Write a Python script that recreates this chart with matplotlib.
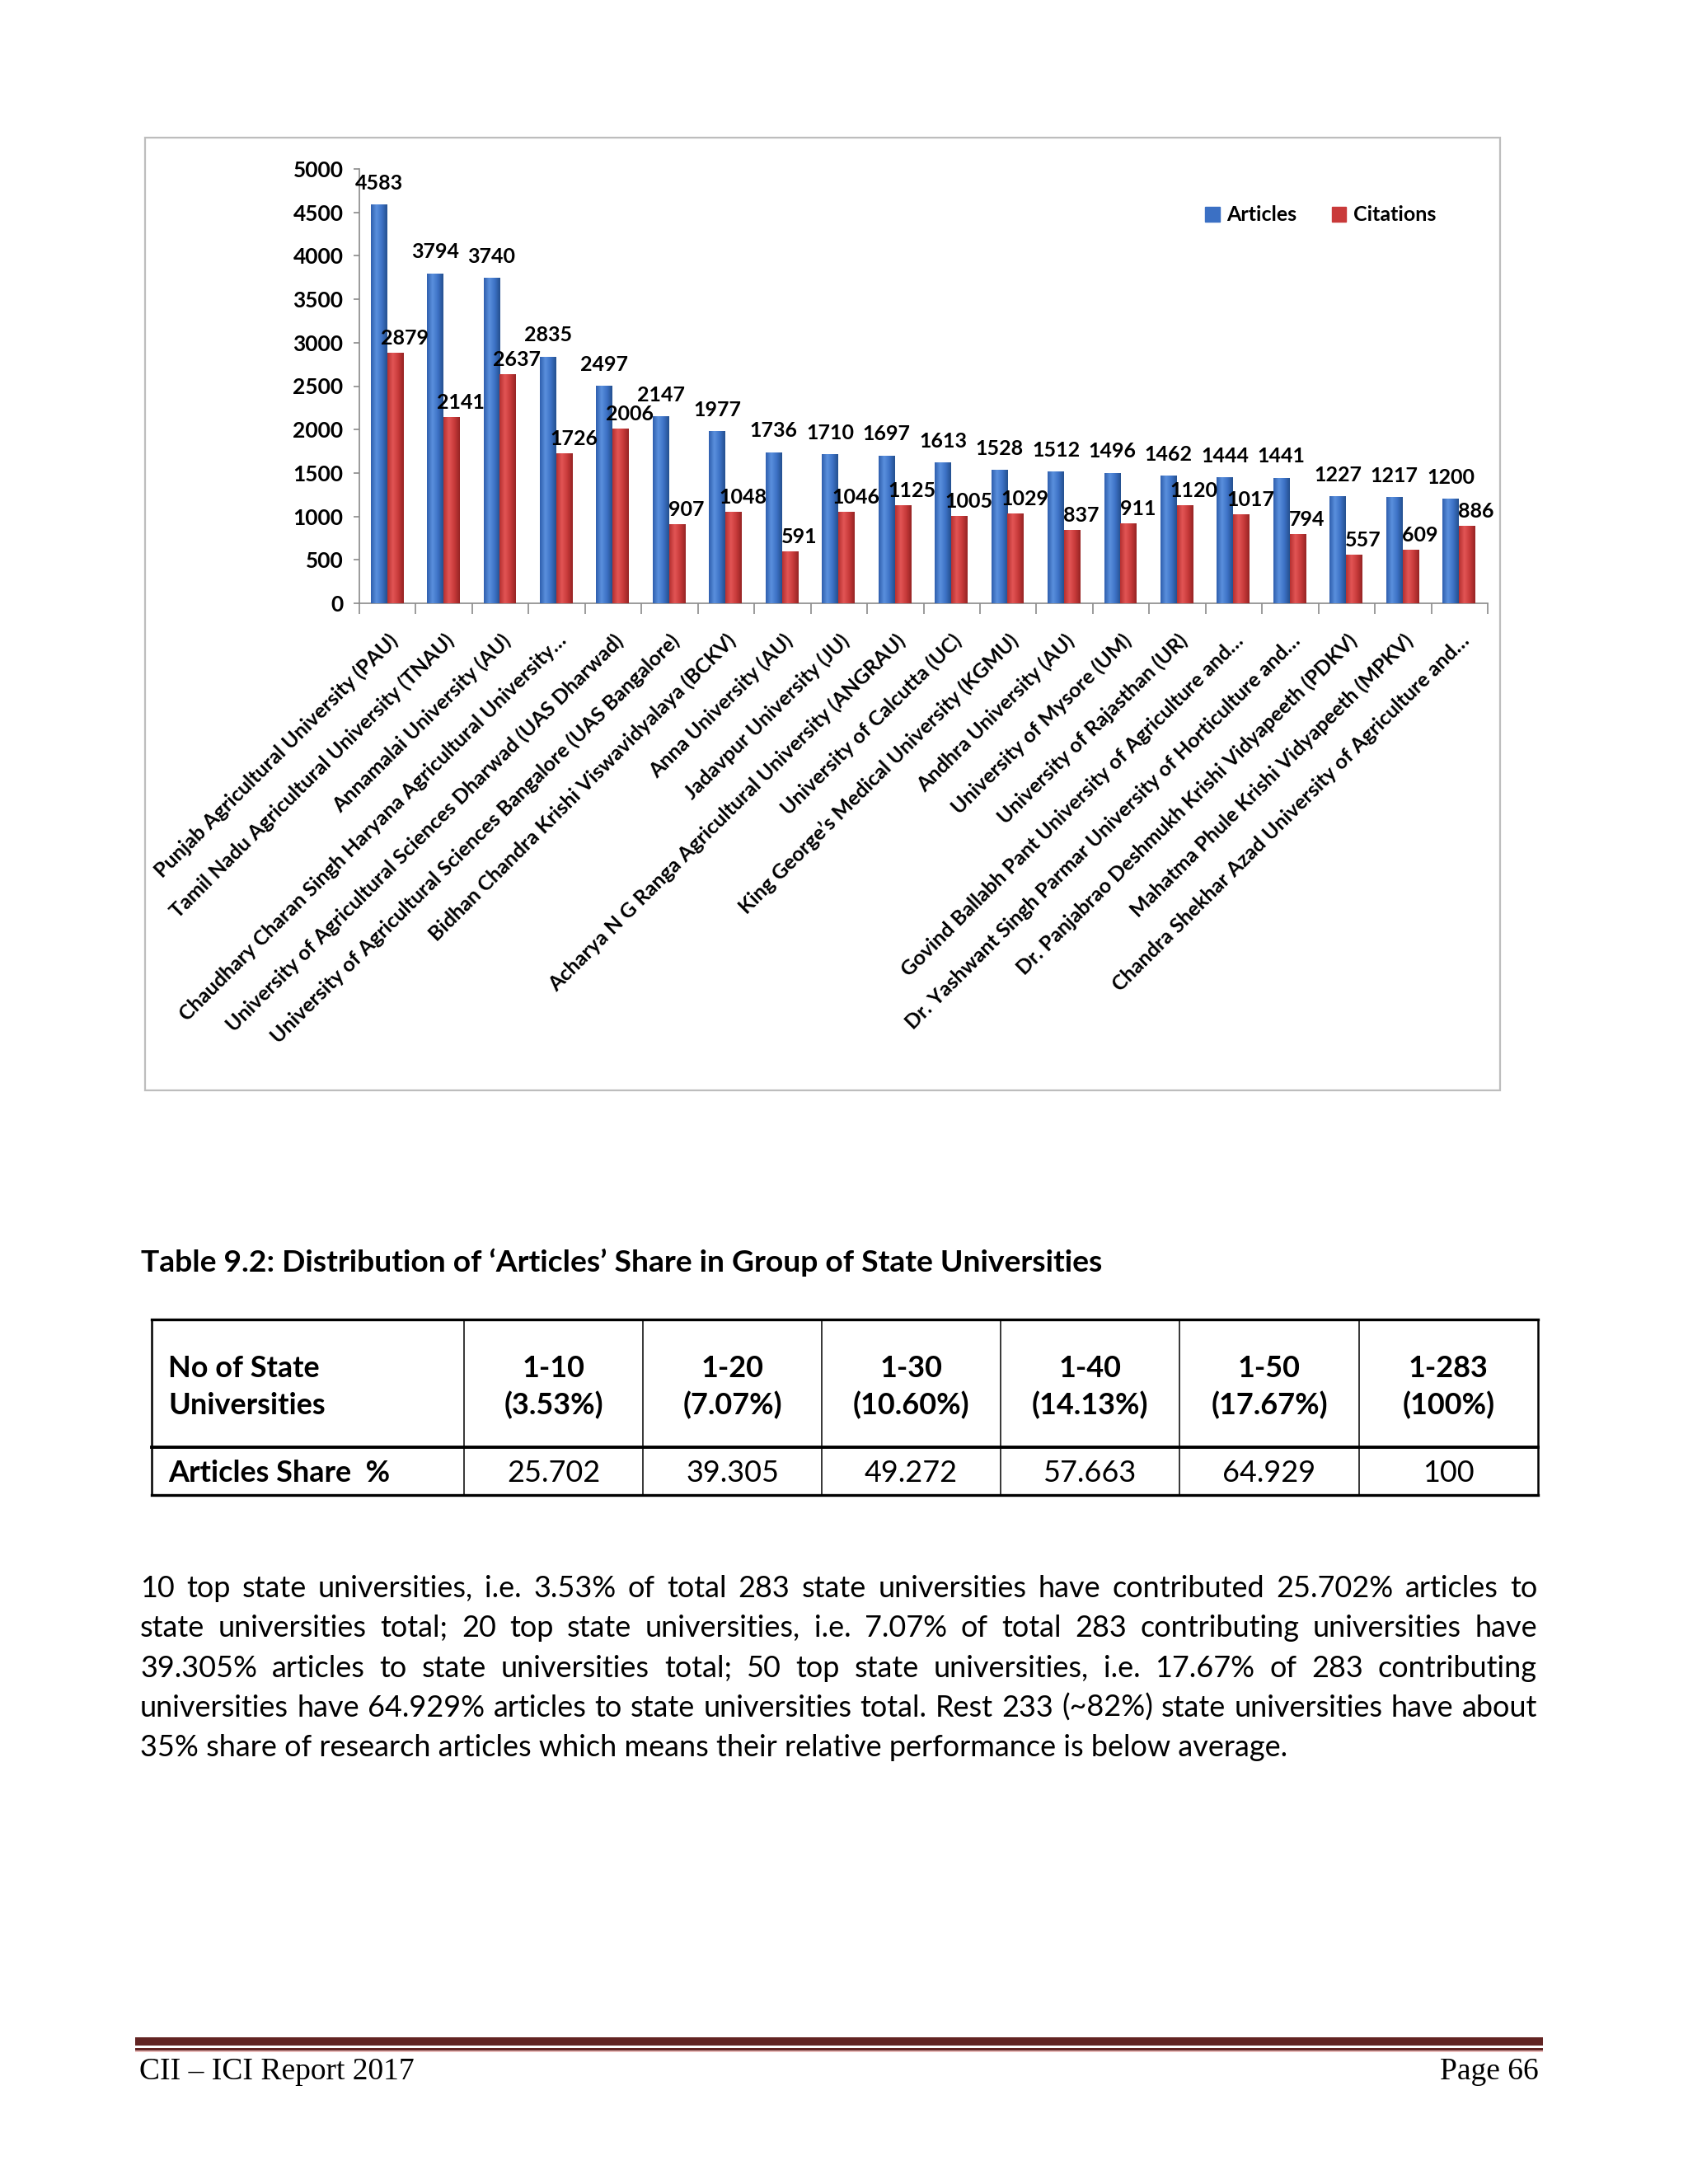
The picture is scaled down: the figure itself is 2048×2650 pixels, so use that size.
import matplotlib
matplotlib.use("Agg")
import matplotlib.pyplot as plt
import numpy as np
from matplotlib.colors import LinearSegmentedColormap
from matplotlib.patches import Rectangle, Patch

plt.rcParams['font.family'] = ['Lato', 'DejaVu Sans']

# ── data ──────────────────────────────────────────────────────────────────────
universities = [
    "Punjab Agricultural University (PAU)",
    "Tamil Nadu Agricultural University (TNAU)",
    "Annamalai University (AU)",
    "Chaudhary Charan Singh Haryana Agricultural University…",
    "University of Agricultural Sciences Dharwad (UAS Dharwad)",
    "University of Agricultural Sciences Bangalore (UAS Bangalore)",
    "Bidhan Chandra Krishi Viswavidyalaya (BCKV)",
    "Anna University (AU)",
    "Jadavpur University (JU)",
    "Acharya N G Ranga Agricultural University (ANGRAU)",
    "University of Calcutta (UC)",
    "King George’s Medical University (KGMU)",
    "Andhra University (AU)",
    "University of Mysore (UM)",
    "University of Rajasthan (UR)",
    "Govind Ballabh Pant University of Agriculture and…",
    "Dr. Yashwant Singh Parmar University of Horticulture and…",
    "Dr. Panjabrao Deshmukh Krishi Vidyapeeth (PDKV)",
    "Mahatma Phule Krishi Vidyapeeth (MPKV)",
    "Chandra Shekhar Azad University of Agriculture and…",
]
articles = [4583, 3794, 3740, 2835, 2497, 2147, 1977, 1736, 1710, 1697,
            1613, 1528, 1512, 1496, 1462, 1444, 1441, 1227, 1217, 1200]
citations = [2879, 2141, 2637, 1726, 2006, 907, 1048, 591, 1046, 1125,
             1005, 1029, 837, 911, 1120, 1017, 794, 557, 609, 886]
y_ticks = list(range(0, 5001, 500))
series_names = ["Articles", "Citations"]

table_title = "Table 9.2: Distribution of ‘Articles’ Share in Group of State Universities"
table_row_heads = [["No of State", "Universities"], ["Articles Share  %"]]
table_groups = [["1-10", "(3.53%)"], ["1-20", "(7.07%)"], ["1-30", "(10.60%)"],
                ["1-40", "(14.13%)"], ["1-50", "(17.67%)"], ["1-283", "(100%)"]]
table_share = ["25.702", "39.305", "49.272", "57.663", "64.929", "100"]

paragraph_lines = [
    "10 top state universities, i.e. 3.53% of total 283 state universities have contributed 25.702% articles to",
    "state universities total; 20 top state universities, i.e. 7.07% of total 283 contributing universities have",
    "39.305% articles to state universities total; 50 top state universities, i.e. 17.67% of 283 contributing",
    "universities have 64.929% articles to state universities total. Rest 233 (~82%) state universities have about",
    "35% share of research articles which means their relative performance is below average.",
]
footer_left = "CII – ICI Report 2017"
footer_right = "Page 66"

# ── page ──────────────────────────────────────────────────────────────────────
W, H = 2048, 2650
fig = plt.figure(figsize=(W / 100, H / 100), dpi=100)
fig.patch.set_facecolor("white")
page = fig.add_axes([0, 0, 1, 1])
page.set_xlim(0, W)
page.set_ylim(H, 0)
page.axis("off")
renderer = fig.canvas.get_renderer()


def text_width(s, **kw):
    t = page.text(0, 0, s, **kw)
    w = t.get_window_extent(renderer).width
    t.remove()
    return w


# chart frame
page.add_patch(Rectangle((176, 167), 1644, 1156, fill=False,
                         edgecolor="#bdbdbd", lw=1.6))

# ── bar chart ─────────────────────────────────────────────────────────────────
BLUE, RED = "#3b70c4", "#c93a3a"
blue_cm = LinearSegmentedColormap.from_list("b", ["#2f5fae", "#5a90dd", "#3d72c6", "#24508f"])
red_cm = LinearSegmentedColormap.from_list("r", ["#b63030", "#e25555", "#c83a3a", "#962424"])
grad = np.linspace(0, 1, 64).reshape(1, -1)

ax = fig.add_axes([436 / W, 1 - 732 / H, (1805 - 436) / W, (732 - 205) / H])
ax.patch.set_alpha(0)
x = np.arange(len(universities))
bw = 0.29
bars_a = ax.bar(x + 0.345, articles, bw, color=BLUE, zorder=2)
bars_c = ax.bar(x + 0.635, citations, bw, color=RED, zorder=2)

# label offsets in points: Articles centred above, Citations nudged right
for bars, cm, dx, dy in [(bars_a, blue_cm, 0, 19), (bars_c, red_cm, 8, 13)]:
    for b in bars:
        x0, w, h = b.get_x(), b.get_width(), b.get_height()
        ax.imshow(grad, extent=[x0, x0 + w, 0, h], aspect="auto", cmap=cm,
                  interpolation="bicubic", zorder=3)
        ax.annotate(f"{int(h)}", (x0 + w / 2, h), xytext=(dx, dy),
                    textcoords="offset points", ha="center", va="center",
                    fontsize=18, fontweight="bold", zorder=5)

ax.set_xlim(0, len(universities))
ax.set_ylim(0, 5000)
ax.set_yticks(y_ticks)
ax.set_xticks(x + 0.5)
ax.set_xticklabels(universities, rotation=45, ha="right", va="top",
                   rotation_mode="anchor", fontsize=18, fontweight="bold")
ax.set_xticks(np.arange(len(universities) + 1), minor=True)
ax.tick_params(axis="x", which="major", length=0, pad=24)
ax.tick_params(axis="x", which="minor", length=9, color="#8a8a8a", width=1.2)
ax.tick_params(axis="y", length=5, color="#8a8a8a", width=1.2, pad=9, labelsize=19)
for lbl in ax.get_yticklabels():
    lbl.set_fontweight("bold")
for s in ["top", "right"]:
    ax.spines[s].set_visible(False)
for s in ["left", "bottom"]:
    ax.spines[s].set_color("#8a8a8a")
    ax.spines[s].set_linewidth(1.2)

ax.legend([Patch(color=BLUE), Patch(color=RED)], series_names,
          loc="center left", bbox_to_anchor=(1462 / W, 1 - 261 / H),
          bbox_transform=fig.transFigure, frameon=False, ncol=2,
          handlelength=0.7, handleheight=0.7, handletextpad=0.35,
          columnspacing=1.7, borderpad=0, borderaxespad=0,
          prop={"weight": "bold", "size": 18})

# ── body text sizing ──────────────────────────────────────────────────────────
TEXT_L, TEXT_R = 170, 1865
natural = max(text_width(l, size=20) for l in paragraph_lines[:-1])
body_size = 20 * (TEXT_R - TEXT_L) / natural * 0.995
body_px = body_size * 100 / 72

title_size = 20 * 1171 / text_width(table_title, size=20, weight="bold")
page.text(171, 1530 + 0.36 * title_size * 100 / 72, table_title, size=title_size,
          weight="bold", va="baseline")

# ── table ─────────────────────────────────────────────────────────────────────
cols = [184, 563, 780, 997, 1214, 1431, 1649, 1866]
top, mid, bot = 1601, 1756, 1814
for cx in cols[1:-1]:
    page.plot([cx, cx], [top, bot], color="black", lw=1.1)
page.plot([cols[0], cols[-1]], [top, top], color="black", lw=2.4)
page.plot([cols[0], cols[-1]], [bot, bot], color="black", lw=2.4)
page.plot([cols[0], cols[-1]], [mid, mid], color="black", lw=2.8)
page.plot([cols[0], cols[0]], [top, bot], color="black", lw=1.8)
page.plot([cols[-1], cols[-1]], [top, bot], color="black", lw=1.8)

off = 0.36 * body_px
for i, line in enumerate(table_row_heads[0]):
    page.text(204, [1658, 1703][i] + off, line, size=body_size, weight="bold", va="baseline")
page.text(204, 1785 + off, table_row_heads[1][0], size=body_size, weight="bold", va="baseline")
for j, grp in enumerate(table_groups):
    cx = (cols[j + 1] + cols[j + 2]) / 2
    for i, line in enumerate(grp):
        page.text(cx, [1658, 1703][i] + off, line, size=body_size, weight="bold",
                  ha="center", va="baseline")
    page.text(cx, 1785 + off, table_share[j], size=body_size, ha="center", va="baseline")

# ── justified paragraph ───────────────────────────────────────────────────────
line_y = [1925, 1973, 2022, 2070, 2118]
for k, line in enumerate(paragraph_lines):
    yb = line_y[k] + off
    if k == len(paragraph_lines) - 1:
        page.text(TEXT_L, yb, line, size=body_size, va="baseline")
        continue
    words = line.split(" ")
    widths = [text_width(wd, size=body_size) for wd in words]
    gap = (TEXT_R - TEXT_L - sum(widths)) / (len(words) - 1)
    cur = TEXT_L
    for wd, wdw in zip(words, widths):
        page.text(cur, yb, wd, size=body_size, va="baseline")
        cur += wdw + gap

# ── footer ────────────────────────────────────────────────────────────────────
page.add_patch(Rectangle((164, 2472), 1708, 10, color="#622423", lw=0))
page.add_patch(Rectangle((164, 2485), 1708, 3, color="#622423", lw=0))
page.add_patch(Rectangle((164, 2488), 1708, 2, color="#e6b9b8", lw=0))
page.text(169, 2514, footer_left, family=["Liberation Serif", "DejaVu Serif"],
          size=27, va="center")
page.text(1867, 2514, footer_right, family=["Liberation Serif", "DejaVu Serif"],
          size=27, va="center", ha="right")

fig.savefig("out.png", dpi=100, facecolor="white")
